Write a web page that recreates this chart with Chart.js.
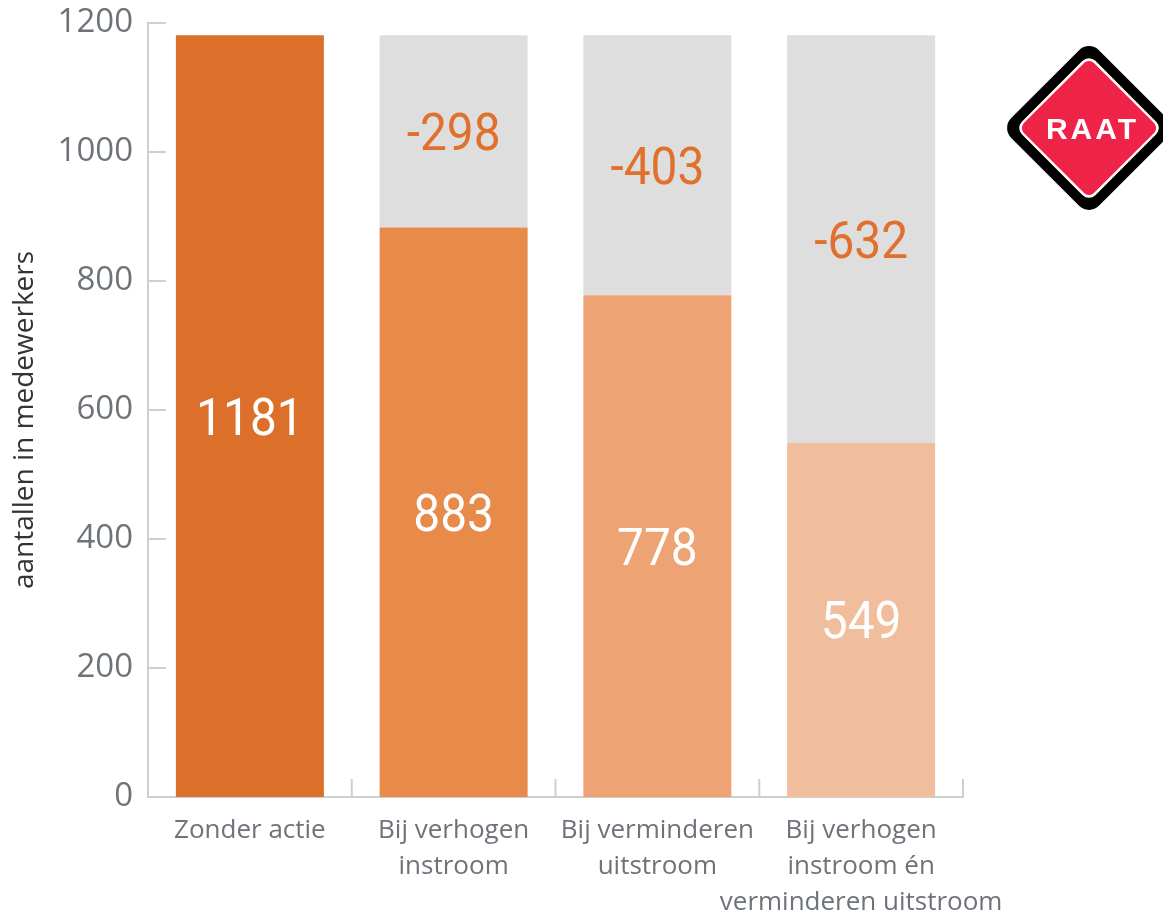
<!DOCTYPE html>
<html><head><meta charset="utf-8">
<script src="https://cdn.jsdelivr.net/npm/chart.js@4.4.1/dist/chart.umd.min.js"></script>
<style>
html,body{margin:0;padding:0;background:#fff;}
#wrap{position:relative;width:1163px;height:916px;overflow:hidden;}
#logo{position:absolute;left:1089px;top:128px;width:0;height:0;}
.d{position:absolute;left:0;top:0;transform:translate(-50%,-50%) rotate(45deg);}
#raat{position:absolute;left:2px;top:1px;transform:translate(-50%,-50%);font:bold 30px "Liberation Sans",Arial,sans-serif;color:#fff;letter-spacing:3px;padding-left:3px;white-space:nowrap;line-height:1;}
</style></head><body>
<div id="wrap"><canvas id="c" width="1163" height="916"></canvas>
<div id="logo">
 <div class="d" style="width:124px;height:124px;background:#000;border-radius:14px;"></div>
 <div class="d" style="width:104px;height:104px;background:#fff;border-radius:9px;"></div>
 <div class="d" style="width:99px;height:99px;background:#ee2347;border-radius:7px;"></div>
 <div id="raat">RAAT</div>
</div></div>
<script>
const categories = [["Zonder actie"], ["Bij verhogen", "instroom"], ["Bij verminderen", "uitstroom"], ["Bij verhogen", "instroom én", "verminderen uitstroom"]];
const remaining = [1181, 883, 778, 549];
const reduction = [0, 298, 403, 632];
const yTicks = [0, 200, 400, 600, 800, 1000, 1200];
const yTitle = 'aantallen in medewerkers';
const barColors = ["#dc6f29", "#e78a4a", "#eea374", "#f0be9c"];
const grayColor = "#dedede";
const axisColor = "#cfcfcf";

const tickMarks = {
  id: 'tickMarks',
  beforeDatasetsDraw(chart) {
    const ctx = chart.ctx, a = chart.chartArea, ys = chart.scales.y, xs = chart.scales.x;
    ctx.save();
    ctx.strokeStyle = axisColor; ctx.lineWidth = 2;
    yTicks.forEach(t => {
      const py = Math.round(ys.getPixelForValue(t));
      ctx.beginPath(); ctx.moveTo(a.left, py); ctx.lineTo(a.left + 18, py); ctx.stroke();
    });
    for (let i = 0; i < categories.length; i++) {
      const px = i < categories.length - 1 ? (xs.getPixelForValue(i) + xs.getPixelForValue(i + 1)) / 2 : a.right;
      ctx.beginPath(); ctx.moveTo(px, a.bottom); ctx.lineTo(px, a.bottom - 18); ctx.stroke();
    }
    // y axis title
    ctx.save();
    ctx.translate(25, (a.top + a.bottom) / 2 + 10);
    ctx.rotate(-Math.PI / 2);
    ctx.font = '28px "Open Sans"';
    ctx.fillStyle = '#333333';
    ctx.textAlign = 'center';
    ctx.textBaseline = 'middle';
    ctx.fillText(yTitle, 0, 0);
    ctx.restore();
    ctx.restore();
  }
};

const valueLabels = {
  id: 'valueLabels',
  afterDatasetsDraw(chart) {
    const ctx = chart.ctx;
    ctx.save();
    const size = 52, sx = 0.92;
    ctx.font = '400 ' + size + 'px Roboto, "DejaVu Sans Condensed", sans-serif';
    ctx.textAlign = 'center';
    ctx.textBaseline = 'alphabetic';
    chart.data.datasets.forEach((ds, di) => {
      const meta = chart.getDatasetMeta(di);
      meta.data.forEach((bar, i) => {
        const v = ds.data[i];
        if (!v) return;
        const cy = (bar.y + bar.base) / 2;
        ctx.fillStyle = di === 0 ? '#ffffff' : '#e0702b';
        ctx.save();
        ctx.translate(bar.x, cy + size * 0.711 / 2);
        ctx.scale(sx, 1);
        ctx.fillText(di === 0 ? String(v) : '-' + v, 0, 0);
        ctx.restore();
      });
    });
    ctx.restore();
  }
};

new Chart(document.getElementById('c'), {
  type: 'bar',
  data: {
    labels: categories,
    datasets: [
      { data: remaining, backgroundColor: barColors, barPercentage: 0.7264, categoryPercentage: 1, borderWidth: 0 },
      { data: reduction, backgroundColor: grayColor, barPercentage: 0.7264, categoryPercentage: 1, borderWidth: 0 }
    ]
  },
  options: {
    responsive: false,
    animation: false,
    layout: { padding: { left: 0, top: 23, right: 200, bottom: 0 } },
    plugins: { legend: { display: false }, tooltip: { enabled: false } },
    scales: {
      x: {
        stacked: true,
        grid: { display: false, drawTicks: false },
        border: { display: true, color: axisColor, width: 2 },
        ticks: { color: '#6e737a', font: { family: '"Open Sans"', size: 26, lineHeight: 1.38 }, padding: 16, maxRotation: 0, autoSkip: false },
        afterFit(s) { s.height = 119; s.paddingLeft = 0; s.paddingRight = 0; }
      },
      y: {
        stacked: true,
        min: 0, max: 1200,
        grid: { display: false, drawTicks: false },
        border: { display: true, color: axisColor, width: 2 },
        afterBuildTicks(s) { s.ticks = yTicks.map(v => ({ value: v })); },
        ticks: { color: '#6e737a', font: { family: '"Open Sans"', size: 33 }, padding: 15, callback: v => String(v) },
        title: { display: false },
        afterFit(s) { s.width = 148; s.paddingTop = 0; s.paddingBottom = 0; }
      }
    }
  },
  plugins: [tickMarks, valueLabels]
});
</script>
</body></html>
